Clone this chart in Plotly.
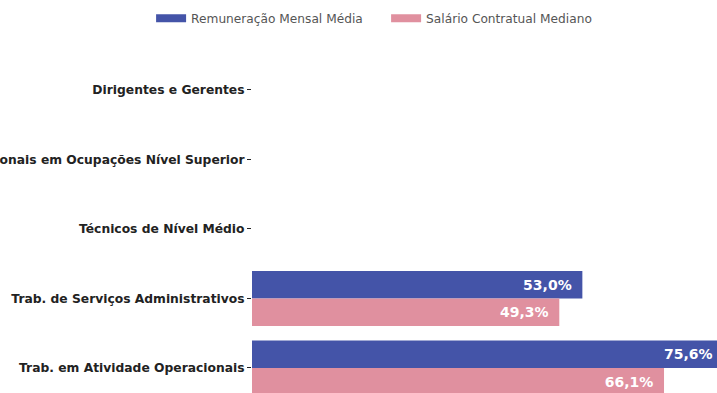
import plotly.graph_objects as go

# Occupational groups (top to bottom)
categories = [
    "Dirigentes e Gerentes",
    "Profissionais em Ocupações Nível Superior",
    "Técnicos de Nível Médio",
    "Trab. de Serviços Administrativos",
    "Trab. em Atividade Operacionais",
]

# Percent values per series (None = no data shown)
remuneracao_media = [None, None, None, 53.0, 75.6]
salario_mediano = [None, None, None, 49.3, 66.1]

series_names = ["Remuneração Mensal Média", "Salário Contratual Mediano"]
series_colors = ["#4454A8", "#E0909F"]

PAD = "\u00a0\u2009"


def fmt(v):
    if v is None:
        return ""
    return f"{v:.1f}%".replace(".", ",") + PAD


fig = go.Figure()

for name, vals, color in zip(series_names, [remuneracao_media, salario_mediano], series_colors):
    fig.add_trace(go.Bar(
        y=categories,
        x=vals,
        orientation="h",
        name=name,
        marker=dict(color=color, line=dict(width=0)),
        text=[fmt(v) for v in vals],
        textposition="inside",
        insidetextanchor="end",
        textfont=dict(family="DejaVu Sans", size=14, color="white", weight="bold"),
        showlegend=False,
        hoverinfo="skip",
    ))

# Legend entries drawn as thick line swatches
for name, color in zip(series_names, series_colors):
    fig.add_trace(go.Scatter(
        x=[None], y=[None],
        mode="lines",
        name=name,
        line=dict(color=color, width=8),
        showlegend=True,
    ))

fig.update_layout(
    width=717,
    height=393,
    margin=dict(l=252, r=0, t=55, b=0, autoexpand=False),
    paper_bgcolor="white",
    plot_bgcolor="white",
    barmode="group",
    bargap=0.21,
    bargroupgap=0,
    font=dict(family="DejaVu Sans", color="#222222"),
    legend=dict(
        orientation="h",
        x=-0.217, xanchor="left",
        y=1.109, yanchor="middle",
        entrywidth=190,
        entrywidthmode="pixels",
        font=dict(family="DejaVu Sans", size=12.2, color="#555555"),
        bgcolor="rgba(0,0,0,0)",
    ),
    xaxis=dict(
        range=[0, 74.6],
        showticklabels=False,
        showgrid=False,
        zeroline=False,
        showline=False,
        ticks="",
    ),
    yaxis=dict(
        type="category",
        range=[4.36, -0.5],
        ticks="outside",
        ticklen=4,
        tickwidth=1,
        tickcolor="#222222",
        showgrid=False,
        zeroline=False,
        showline=False,
        automargin=False,
        tickfont=dict(family="DejaVu Sans", size=12.3, color="#222222", weight="bold"),
    ),
)

fig.write_html("out.html")
